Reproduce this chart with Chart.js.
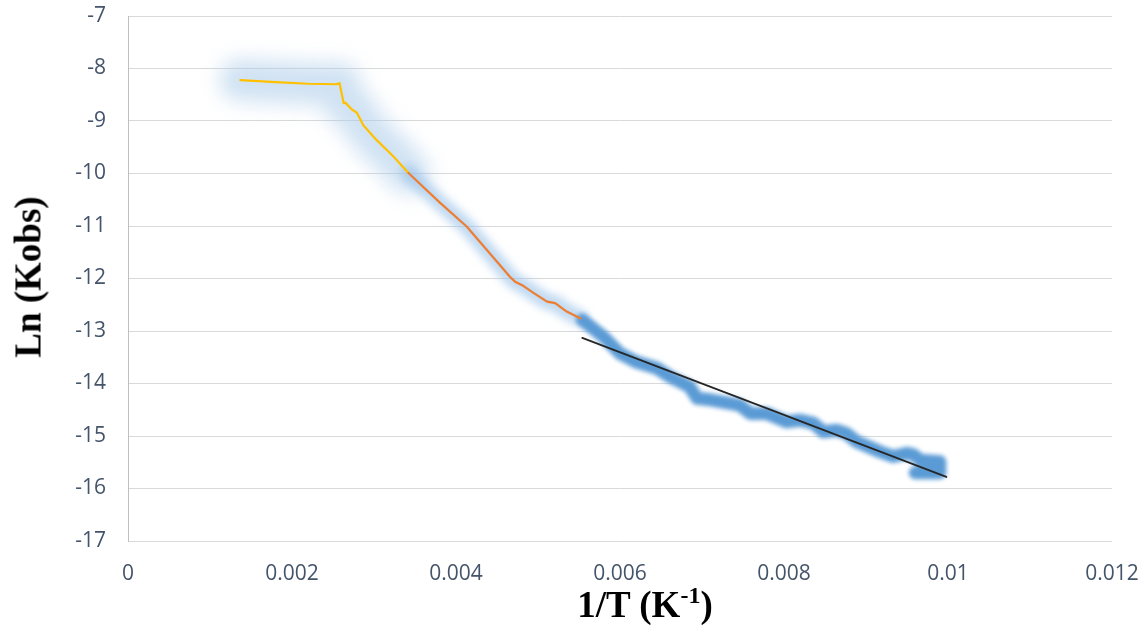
<!DOCTYPE html>
<html>
<head>
<meta charset="utf-8">
<script src="https://cdn.jsdelivr.net/npm/chart.js@4"></script>
<style>
html,body{margin:0;padding:0;background:#fff;width:1146px;height:626px;overflow:hidden;}
#wrap{position:relative;width:1146px;height:626px;}
canvas{position:absolute;left:0;top:0;}
.ttl{position:absolute;font-family:'Liberation Serif','Times New Roman',serif;font-weight:bold;color:#000;white-space:nowrap;line-height:1;}
#xt{font-size:37px;left:645px;top:586px;transform:translateX(-50%);}
#xt sup{font-size:24px;vertical-align:0;position:relative;top:-14px;}
#yt{font-size:37px;left:28px;top:277px;transform:translate(-50%,-50%) rotate(-90deg);}
</style>
</head>
<body>
<div id="wrap">
<canvas id="c" width="1146" height="626"></canvas>
<div class="ttl" id="xt">1/T (K<sup>-1</sup>)</div>
<div class="ttl" id="yt">Ln (Kobs)</div>
</div>
<script>
const yellowX = [0.00137, 0.0018, 0.0022, 0.00254, 0.00258, 0.00263, 0.00265, 0.00273, 0.00279, 0.00287, 0.00303, 0.00324, 0.00342];
const yellowY = [-8.22, -8.26, -8.29, -8.30, -8.28, -8.66, -8.65, -8.78, -8.84, -9.08, -9.36, -9.68, -9.99];

const orangeX = [0.00342, 0.0038, 0.00413, 0.0045, 0.00466, 0.00472, 0.00482, 0.00494, 0.00511, 0.00521, 0.00535, 0.00552];
const orangeY = [-9.99, -10.55, -11.01, -11.68, -11.97, -12.06, -12.14, -12.27, -12.44, -12.47, -12.63, -12.76];

const blueX = [0.00554, 0.0058, 0.006, 0.0062, 0.00645, 0.00661, 0.00685, 0.00694, 0.0071, 0.00746, 0.00759, 0.00779, 0.00803, 0.0082, 0.00836, 0.00848, 0.00864, 0.00876, 0.00889, 0.00917, 0.00933, 0.0095, 0.00958, 0.00966, 0.0099, 0.0099, 0.0096];
const blueY = [-12.79, -13.11, -13.43, -13.59, -13.71, -13.87, -14.06, -14.28, -14.31, -14.41, -14.57, -14.57, -14.73, -14.70, -14.76, -14.92, -14.89, -14.95, -15.11, -15.30, -15.39, -15.33, -15.36, -15.46, -15.49, -15.70, -15.70];

const trendX = [0.00554, 0.00998];
const trendY = [-13.13, -15.78];

const xTicks = [0, 0.002, 0.004, 0.006, 0.008, 0.01, 0.012];
const yTicks = [-7, -8, -9, -10, -11, -12, -13, -14, -15, -16, -17];

function pts(xs, ys){ return xs.map((x,i)=>({x:x, y:ys[i]})); }

const blurPlugin = {
  id:'blurPlugin',
  beforeDatasetDraw(chart, args){
    const ds = chart.data.datasets[args.index];
    chart.ctx.save();
    if (ds.blur) chart.ctx.filter = 'blur(' + ds.blur + 'px)';
  },
  afterDatasetDraw(chart, args){
    chart.ctx.restore();
  }
};

const base = {pointRadius:0, pointHoverRadius:0, tension:0, fill:false, borderJoinStyle:'round', borderCapStyle:'round'};

new Chart(document.getElementById('c'), {
  type:'line',
  data:{
    datasets:[
      Object.assign({}, base, {data:pts(yellowX, yellowY), borderColor:'rgba(170,202,233,0.55)', borderWidth:42, blur:10, order:9}),
      Object.assign({}, base, {data:pts(orangeX, orangeY), borderColor:'rgba(150,192,232,0.6)', borderWidth:16, blur:4, order:8}),
      Object.assign({}, base, {data:pts(blueX, blueY), borderColor:'#5B9BD5', borderWidth:13, blur:2, order:3}),
      Object.assign({}, base, {data:pts(yellowX, yellowY), borderColor:'#FFC000', borderWidth:2.2, order:2}),
      Object.assign({}, base, {data:pts(orangeX, orangeY), borderColor:'#ED7D31', borderWidth:2.2, order:1}),
      Object.assign({}, base, {data:pts(trendX, trendY), borderColor:'#262626', borderWidth:1.8, order:0})
    ]
  },
  options:{
    responsive:false,
    animation:false,
    devicePixelRatio:1,
    layout:{padding:{top:16, right:34, left:0, bottom:0}},
    plugins:{legend:{display:false}, tooltip:{enabled:false}},
    scales:{
      x:{
        type:'linear', min:0, max:0.012,
        afterBuildTicks(axis){ axis.ticks = xTicks.map(v=>({value:v})); },
        afterFit(axis){ axis.height = 85; axis.paddingLeft = 0; axis.paddingRight = 0; axis.paddingTop = 0; axis.paddingBottom = 0; },
        grid:{display:false, drawTicks:false},
        border:{display:false},
        ticks:{
          padding:20, color:'#44546A',
          font:{family:"'Open Sans','Liberation Sans',sans-serif", size:21},
          callback:v=>String(+v.toFixed(3)), maxRotation:0, autoSkip:false
        }
      },
      y:{
        type:'linear', min:-17, max:-7,
        afterBuildTicks(axis){ axis.ticks = yTicks.map(v=>({value:v})); },
        afterFit(axis){ axis.width = 128; axis.paddingLeft = 0; axis.paddingRight = 0; axis.paddingTop = 0; axis.paddingBottom = 0; },
        grid:{color:'#D9D9D9', lineWidth:1, drawTicks:false},
        border:{display:true, color:'#BFBFBF', width:1},
        ticks:{
          padding:22, color:'#44546A',
          font:{family:"'Open Sans','Liberation Sans',sans-serif", size:21},
          callback:v=>String(v), autoSkip:false
        }
      }
    }
  },
  plugins:[blurPlugin]
});
</script>
</body>
</html>
